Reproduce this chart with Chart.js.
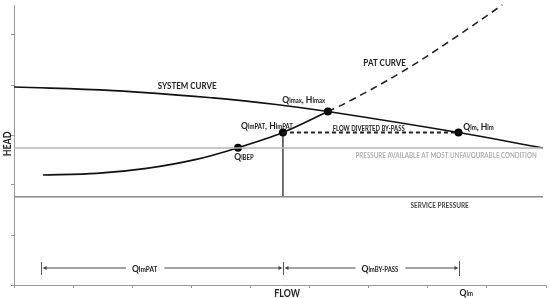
<!DOCTYPE html>
<html><head><meta charset="utf-8">
<script src="https://cdn.jsdelivr.net/npm/chart.js@4.4.0/dist/chart.umd.min.js"></script>
<style>html,body{margin:0;padding:0;background:#fff}canvas{display:block}</style>
</head><body>
<canvas id="c" width="550" height="298"></canvas>
<script>
// ---- data ----
const systemFlow = [0, 1.685, 3.371, 4.399, 5.31, 7.52, 8.95];
const systemHead = [3.96, 3.888, 3.742, 3.616, 3.47, 3.05, 2.74];
const patFlow = [0.489, 1.399, 2.242, 3.084, 3.79, 4.55, 5.31];
const patHead = [2.20, 2.232, 2.332, 2.512, 2.746, 3.05, 3.47];
const patExtFlow = [5.31, 5.71, 6.56, 7.40, 8.26];
const patExtHead = [3.47, 3.70, 4.26, 4.90, 5.60];
const keyNames = ['QlBEP', 'QlmPAT', 'Qlmax', 'Qlm'];
const keyFlow = [3.79, 4.55, 5.31, 7.52];
const keyHead = [2.746, 3.05, 3.47, 3.05];
const availablePressure = 2.74;
const servicePressure = 1.766;
const flowAxisEnd = 8.95;
const patRangeStart = 0.45;
const xTicks = [0, 1, 2, 3, 4, 5, 6, 7, 8, 9];
const yTicks = [0, 1, 2, 3, 4, 5];

const pts = (xs, ys) => xs.map((x, i) => ({x, y: ys[i]}));
const FONT = 'Lato, "Open Sans", sans-serif';
const SQ = 0.84; // horizontal condensing of the label font

const iPAT = 1, iLm = 3;

// annotation texts (positions in data units)
const B = 10.2, S = 7.1;
const labels = [
  {x: 2.93, y: 3.98, segs: [['SYSTEM CURVE', 9.5]], color: '#222'},
  {x: 6.27, y: 4.44, segs: [['PAT CURVE', 9.5]], color: '#222'},
  {x: 4.90, y: 3.72, segs: [['Q', B], ['lmax', S], [', H', B], ['lmax', S]], color: '#222'},
  {x: 4.28, y: 3.20, segs: [['Q', B], ['lmPAT', S], [', H', B], ['lmPAT', S]], color: '#222'},
  {x: 3.89, y: 2.58, segs: [['Q', B], ['lBEP', S]], color: '#222'},
  {x: 6.00, y: 3.14, segs: [['FLOW DIVERTED BY-PASS', 7]], color: '#222'},
  {x: 7.60, y: 3.18, segs: [['Q', B], ['lm', S], [', H', B], ['lm', S]], color: '#222', align: 'left'},
  {x: 7.31, y: 2.60, segs: [['PRESSURE AVAILABLE AT MOST UNFAVOURABLE CONDITION', 7.4]], color: '#b0b0b0'},
  {x: 7.20, y: 1.60, segs: [['SERVICE PRESSURE', 7.6]], color: '#444'},
  {x: 7.65, y: -0.14, segs: [['Q', B], ['lm', S]], color: '#222'},
  {x: 4.62, y: -0.16, segs: [['FLOW', 10.5]], color: '#222'}
];
const dimLabelFlow = [2.21, 6.19];

function segWidth(ctx, segs) {
  let w = 0;
  segs.forEach(s => { ctx.font = `bold ${s[1]}px ${FONT}`; w += ctx.measureText(s[0]).width; });
  return w * SQ;
}
function drawSegs(ctx, segs, cx, cy, color, align) {
  const w = segWidth(ctx, segs);
  const big = Math.max(...segs.map(s => s[1]));
  const x0 = align === 'left' ? cx : cx - w / 2;
  const base = cy + big * 0.36;
  ctx.save();
  ctx.translate(x0, base);
  ctx.scale(SQ, 1);
  ctx.fillStyle = color;
  ctx.textBaseline = 'alphabetic';
  ctx.textAlign = 'left';
  let x = 0;
  segs.forEach(s => { ctx.font = `bold ${s[1]}px ${FONT}`; ctx.fillText(s[0], x, 0); x += ctx.measureText(s[0]).width; });
  ctx.restore();
  return w;
}
function arrowHead(ctx, x, y, dir) {
  ctx.beginPath();
  ctx.moveTo(x, y);
  ctx.lineTo(x - dir * 4, y - 2);
  ctx.lineTo(x - dir * 4, y + 2);
  ctx.closePath();
  ctx.fill();
}
function dimension(ctx, x1, x2, cx, y, segs) {
  ctx.save();
  ctx.strokeStyle = '#444'; ctx.fillStyle = '#444'; ctx.lineWidth = 1;
  const w = segWidth(ctx, segs);
  const gapL = cx - w / 2 - 6, gapR = cx + w / 2 + 7;
  ctx.beginPath();
  ctx.moveTo(x1 + 3, y); ctx.lineTo(gapL, y);
  ctx.moveTo(gapR, y); ctx.lineTo(x2 - 3, y);
  ctx.stroke();
  arrowHead(ctx, x1 + 1, y, -1);
  arrowHead(ctx, x2 - 1, y, 1);
  ctx.restore();
  drawSegs(ctx, segs, cx, y, '#222');
}

const annot = {
  id: 'annot',
  afterDatasetsDraw(chart) {
    const ctx = chart.ctx, xs = chart.scales.x, ys = chart.scales.y;
    ctx.save();
    labels.forEach(l => drawSegs(ctx, l.segs, xs.getPixelForValue(l.x), ys.getPixelForValue(l.y), l.color, l.align));
    // HEAD axis title
    ctx.save();
    ctx.translate(xs.getPixelForValue(-0.12), ys.getPixelForValue(2.82));
    ctx.rotate(-Math.PI / 2);
    drawSegs(ctx, [['HEAD', 10.5]], 0, 0, '#222');
    ctx.restore();
    // dimension bars
    const dy = ys.getPixelForValue(0.34);
    const xa = Math.round(xs.getPixelForValue(patRangeStart)) + 0.5;
    const xb = Math.round(xs.getPixelForValue(keyFlow[iPAT])) + 0.5;
    const xc = Math.round(xs.getPixelForValue(keyFlow[iLm])) + 0.5;
    ctx.strokeStyle = '#555'; ctx.lineWidth = 1;
    ctx.beginPath();
    ctx.moveTo(xa, dy - 6); ctx.lineTo(xa, dy + 7);
    ctx.moveTo(xb, dy - 6); ctx.lineTo(xb, dy + 7);
    ctx.moveTo(xc, dy - 7); ctx.lineTo(xc, dy + 8);
    ctx.stroke();
    dimension(ctx, xa, xb, xs.getPixelForValue(dimLabelFlow[0]), dy, [['Q', B], ['lmPAT', 7.7]]);
    dimension(ctx, xb, xc, xs.getPixelForValue(dimLabelFlow[1]), dy, [['Q', B], ['lmBY-PASS', S]]);
    ctx.restore();
  }
};

new Chart(document.getElementById('c'), {
  type: 'scatter',
  data: {
    datasets: [
      {data: pts([0, flowAxisEnd], [availablePressure, availablePressure]), showLine: true, borderColor: '#b4b4b4', borderWidth: 1.5, pointRadius: 0},
      {data: pts([0, flowAxisEnd], [servicePressure, servicePressure]), showLine: true, borderColor: '#8a8a8a', borderWidth: 1.5, pointRadius: 0},
      {data: pts(systemFlow, systemHead), showLine: true, borderColor: '#111', borderWidth: 1.6, pointRadius: 0, tension: 0.4},
      {data: pts(patFlow, patHead), showLine: true, borderColor: '#111', borderWidth: 1.6, pointRadius: 0, tension: 0.3},
      {data: pts(patExtFlow, patExtHead), showLine: true, borderColor: '#222', borderWidth: 1.6, borderDash: [7, 5], pointRadius: 0, tension: 0.4, clip: false},
      {data: pts([keyFlow[iPAT], keyFlow[iPAT]], [keyHead[iPAT], servicePressure]), showLine: true, borderColor: '#111', borderWidth: 1.2, pointRadius: 0},
      {data: pts([keyFlow[iPAT], keyFlow[iLm]], [keyHead[iPAT], keyHead[iLm]]), showLine: true, borderColor: '#222', borderWidth: 2, borderDash: [4, 3], pointRadius: 0},
      {data: pts(keyFlow, keyHead), showLine: false, pointRadius: 4, pointBackgroundColor: '#000', pointBorderColor: '#000', pointBorderWidth: 0}
    ]
  },
  options: {
    responsive: false, devicePixelRatio: 1, animation: false,
    layout: {padding: {left: 0, right: 2, top: 5, bottom: 0}},
    plugins: {legend: {display: false}, tooltip: {enabled: false}},
    scales: {
      x: {
        type: 'linear', min: 0, max: 9,
        afterFit: s => { s.height = 13; },
        afterBuildTicks: s => { s.ticks = xTicks.map(v => ({value: v})); },
        ticks: {display: false},
        grid: {drawOnChartArea: false, drawTicks: true, tickLength: 3, color: '#999'},
        border: {display: true, color: '#999', width: 1}
      },
      y: {
        type: 'linear', min: 0, max: 5.6,
        afterFit: s => { s.width = 14; },
        afterBuildTicks: s => { s.ticks = yTicks.map(v => ({value: v})); },
        ticks: {display: false},
        grid: {drawOnChartArea: false, drawTicks: true, tickLength: 3, color: '#999'},
        border: {display: true, color: '#999', width: 1}
      }
    }
  },
  plugins: [annot]
});
</script>
</body></html>
